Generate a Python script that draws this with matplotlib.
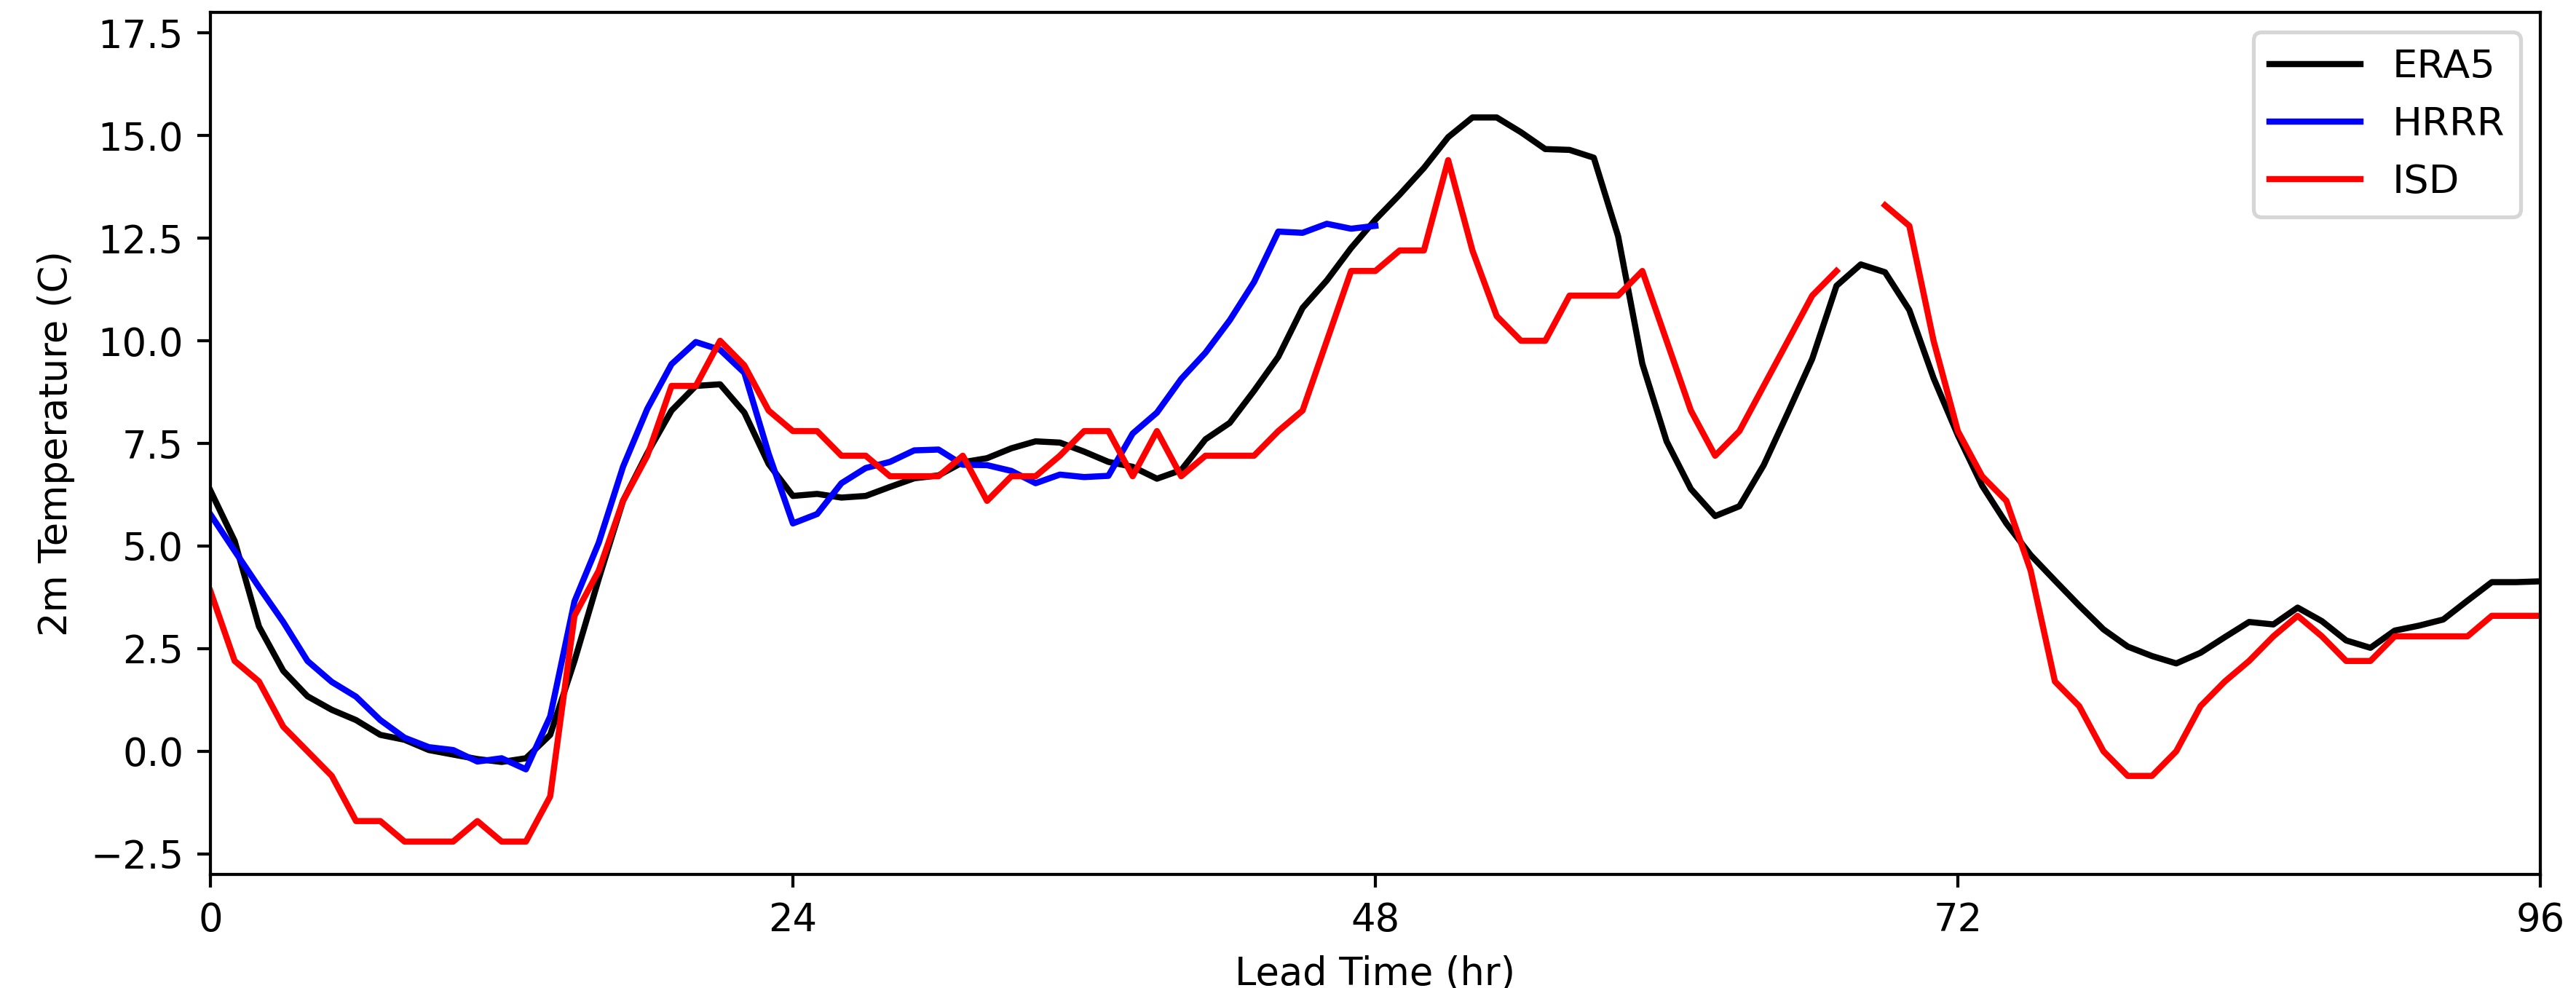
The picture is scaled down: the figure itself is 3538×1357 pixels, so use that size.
import numpy as np
import matplotlib
matplotlib.use("Agg")
import matplotlib.pyplot as plt

hours = list(range(0, 97))
hrrr_hours = list(range(0, 49))

era5 = [6.35, 5.12, 3.04, 1.96, 1.34, 1.01, 0.76, 0.40, 0.28, 0.03,
        -0.08, -0.19, -0.26, -0.17, 0.40, 2.2, 4.2, 6.1, 7.26, 8.3,
        8.9, 8.94, 8.25, 7.0, 6.22, 6.27, 6.18, 6.22, 6.44, 6.65,
        6.72, 7.04, 7.14, 7.38, 7.55, 7.52, 7.3, 7.05, 6.93, 6.64,
        6.85, 7.6, 8.0, 8.78, 9.61, 10.8, 11.47, 12.26, 12.95, 13.56,
        14.21, 14.96, 15.44, 15.44, 15.08, 14.67, 14.65, 14.46, 12.55, 9.44,
        7.55, 6.39, 5.73, 5.97, 6.97, 8.25, 9.56, 11.34, 11.86, 11.67,
        10.75, 9.09, 7.7, 6.47, 5.55, 4.78, 4.16, 3.55, 2.97, 2.55,
        2.32, 2.14, 2.4, 2.78, 3.15, 3.09, 3.5, 3.17, 2.7, 2.52,
        2.94, 3.06, 3.21, 3.67, 4.12, 4.12, 4.14]

hrrr = [5.77, 4.88, 4.0, 3.15, 2.2, 1.69, 1.33, 0.76, 0.33, 0.1,
        0.03, -0.25, -0.17, -0.44, 0.85, 3.65, 5.08, 6.93, 8.34, 9.43,
        9.97, 9.78, 9.22, 7.25, 5.55, 5.78, 6.53, 6.9, 7.05, 7.33,
        7.35, 6.98, 6.97, 6.83, 6.53, 6.74, 6.68, 6.71, 7.74, 8.25,
        9.07, 9.71, 10.5, 11.43, 12.66, 12.63, 12.85, 12.73, 12.8]

isd = [3.9, 2.2, 1.7, 0.6, 0.0, -0.6, -1.7, -1.7, -2.2, -2.2,
       -2.2, -1.7, -2.2, -2.2, -1.1, 3.3, 4.4, 6.1, 7.2, 8.9,
       8.9, 10.0, 9.4, 8.3, 7.8, 7.8, 7.2, 7.2, 6.7, 6.7,
       6.7, 7.2, 6.1, 6.7, 6.7, 7.2, 7.8, 7.8, 6.7, 7.8,
       6.7, 7.2, 7.2, 7.2, 7.8, 8.3, 10.0, 11.7, 11.7, 12.2,
       12.2, 14.4, 12.2, 10.6, 10.0, 10.0, 11.1, 11.1, 11.1, 11.7,
       10.0, 8.3, 7.2, 7.8, 8.9, 10.0, 11.1, 11.7, np.nan, 13.3,
       12.8, 10.0, 7.8, 6.7, 6.1, 4.4, 1.7, 1.1, 0.0, -0.6,
       -0.6, 0.0, 1.1, 1.7, 2.2, 2.8, 3.3, 2.8, 2.2, 2.2,
       2.8, 2.8, 2.8, 2.8, 3.3, 3.3, 3.3]

xticks = [0, 24, 48, 72, 96]

DPI = 380
fig = plt.figure(figsize=(3538 / DPI, 1357 / DPI), dpi=DPI)
ax = fig.add_axes([289 / 3538, 1 - 1201 / 1357, (3489 - 289) / 3538, (1201 - 17) / 1357])

ax.plot(hours, era5, color="black", label="ERA5", linewidth=1.6)
ax.plot(hrrr_hours, hrrr, color="blue", label="HRRR", linewidth=1.6)
ax.plot(hours, isd, color="red", label="ISD", linewidth=1.6)

ax.set_xlim(0, 96)
ax.set_ylim(-3, 18)
ax.set_xticks(xticks)
ax.set_xlabel("Lead Time (hr)")
ax.set_ylabel("2m Temperature (C)")
ax.legend(loc="upper right", fontsize=10.3, handlelength=2.3)

fig.savefig("out.png", dpi=DPI)
